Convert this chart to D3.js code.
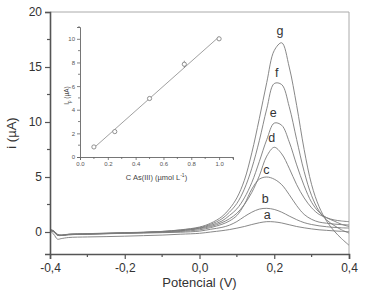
<!DOCTYPE html>
<html>
<head>
<meta charset="utf-8">
<script src="https://cdn.jsdelivr.net/npm/d3@7"></script>
<style>
  body { margin: 0; background: #fff; }
  svg { font-family: "Liberation Sans", Arial, sans-serif; }
</style>
</head>
<body>
<div id="chart"></div>
<script>
// potential grid (V) shared by all voltammograms
const potential = [-0.40, -0.39, -0.38, -0.37, -0.35, -0.30, -0.25, -0.20, -0.15, -0.10, -0.05,
  0.00, 0.03, 0.06, 0.08, 0.10, 0.12, 0.14, 0.16, 0.18, 0.20, 0.22, 0.24, 0.26, 0.28, 0.30,
  0.32, 0.34, 0.36, 0.38, 0.40];

// current (uA) for each curve
const curveA = [0.10, -0.20, -0.65, -0.60, -0.50, -0.45, -0.42, -0.38, -0.33, -0.28, -0.20,
  -0.12, 0.00, 0.12, 0.22, 0.35, 0.50, 0.68, 0.84, 0.94, 0.92, 0.82, 0.66, 0.50, 0.38, 0.28,
  0.20, 0.15, 0.10, 0.06, 0.03];
const curveB = [0.15, 0.05, -0.30, -0.32, -0.25, -0.20, -0.16, -0.12, -0.10, -0.06, -0.02,
  0.08, 0.25, 0.42, 0.62, 0.95, 1.40, 1.80, 2.08, 2.15, 2.05, 1.80, 1.45, 1.12, 0.85, 0.68,
  0.56, 0.48, 0.42, 0.38, 0.36];
const curveC = [0.20, 0.10, -0.25, -0.30, -0.22, -0.18, -0.14, -0.10, -0.06, -0.02, 0.05,
  0.20, 0.40, 0.70, 1.00, 1.50, 2.50, 3.90, 4.80, 5.00, 4.80, 4.30, 3.40, 2.40, 1.60, 1.15,
  0.90, 0.80, 0.72, 0.67, 0.64];
const curveD = [0.25, 0.10, -0.20, -0.28, -0.20, -0.15, -0.10, -0.06, -0.02, 0.03, 0.12,
  0.30, 0.50, 0.85, 1.20, 1.70, 2.50, 3.60, 5.10, 6.90, 7.70, 7.10, 5.80, 4.30, 3.10, 2.20,
  1.60, 1.30, 1.10, 1.00, 0.94];
const curveE = [0.20, 0.05, -0.25, -0.30, -0.22, -0.17, -0.12, -0.08, -0.04, 0.02, 0.12,
  0.35, 0.60, 1.00, 1.50, 2.10, 3.10, 4.50, 6.40, 8.40, 9.90, 9.70, 8.20, 6.10, 4.20, 2.70,
  1.80, 1.30, 1.00, 0.70, 0.50];
const curveF = [0.15, 0.05, -0.25, -0.30, -0.22, -0.18, -0.13, -0.08, -0.03, 0.05, 0.18,
  0.40, 0.70, 1.20, 1.80, 2.60, 3.90, 5.80, 8.30, 11.2, 13.5, 13.4, 11.4, 8.40, 5.50, 3.30,
  1.90, 1.10, 0.60, 0.20, -0.10];
const curveG = [0.10, 0.00, -0.30, -0.30, -0.25, -0.20, -0.15, -0.10, -0.05, 0.05, 0.20,
  0.45, 0.80, 1.40, 2.10, 3.10, 4.70, 7.20, 10.3, 13.6, 16.5, 17.2, 15.0, 11.5, 7.50, 4.30,
  2.30, 1.00, 0.10, -0.60, -1.20];

const curveNames = ["a", "b", "c", "d", "e", "f", "g"];
const curveData = [curveA, curveB, curveC, curveD, curveE, curveF, curveG];
// label anchor (potential, current at text baseline)
const labelPos = [[0.181, 1.15], [0.176, 2.6], [0.179, 5.3], [0.193, 8.2], [0.197, 10.5], [0.207, 14.1], [0.215, 17.9]];

// inset: calibration points
const concentration = [0.10, 0.25, 0.50, 0.75, 1.00];
const peakCurrent = [0.85, 2.15, 4.95, 7.85, 10.0];
const peakError = [0.1, 0.15, 0.15, 0.3, 0.15];

const xTicks = [-0.4, -0.2, 0.0, 0.2, 0.4];
const yTicks = [0, 5, 10, 15, 20];
const insetXTicks = [0.0, 0.2, 0.4, 0.6, 0.8, 1.0];
const insetYTicks = [0, 2, 4, 6, 8, 10];

const width = 368, height = 298;
const margin = {top: 12, right: 19, bottom: 44, left: 50};

const svg = d3.select("#chart").append("svg")
  .attr("width", width).attr("height", height);

const x = d3.scaleLinear().domain([-0.4, 0.4]).range([margin.left, width - margin.right]);
const y = d3.scaleLinear().domain([-2, 20]).range([height - margin.bottom, margin.top]);

const comma = d => d3.format(".1f")(d).replace(".", ",").replace("−", "-");

// frame (top & right)
svg.append("path")
  .attr("d", `M${x(-0.4)},${y(20)}H${x(0.4)}V${y(-2)}`)
  .attr("fill", "none").attr("stroke", "#aaa").attr("stroke-width", 1);

// curves
const line = d3.line()
  .x((d, i) => x(potential[i]))
  .y(d => y(d))
  .curve(d3.curveCatmullRom);

svg.append("g")
  .selectAll("path")
  .data(curveData)
  .join("path")
  .attr("d", line)
  .attr("fill", "none")
  .attr("stroke", "#7a7a7a")
  .attr("stroke-width", 0.9);

svg.append("g")
  .selectAll("text")
  .data(curveNames)
  .join("text")
  .attr("x", (d, i) => x(labelPos[i][0]))
  .attr("y", (d, i) => y(labelPos[i][1]))
  .attr("text-anchor", "middle")
  .attr("font-size", 12.5)
  .attr("fill", "#333")
  .text(d => d);

// main axes
const xAxis = svg.append("g")
  .attr("transform", `translate(0,${y(-2)})`)
  .call(d3.axisBottom(x).tickValues(xTicks).tickFormat(comma).tickSize(5).tickPadding(4));
xAxis.append("g").selectAll("line")
  .data([-0.3, -0.1, 0.1, 0.3])
  .join("line")
  .attr("x1", d => x(d)).attr("x2", d => x(d))
  .attr("y1", 0).attr("y2", 3);

const yAxis = svg.append("g")
  .attr("transform", `translate(${x(-0.4)},0)`)
  .call(d3.axisLeft(y).tickValues(yTicks).tickSize(5).tickPadding(3));
yAxis.append("g").selectAll("line")
  .data([2.5, 7.5, 12.5, 17.5])
  .join("line")
  .attr("y1", d => y(d)).attr("y2", d => y(d))
  .attr("x1", 0).attr("x2", -3);

[xAxis, yAxis].forEach(g => {
  g.select(".domain").attr("stroke", "#555").attr("stroke-width", 1.6);
  g.selectAll("line").attr("stroke", "#555").attr("stroke-width", 1.2);
  g.selectAll("text").attr("font-size", 12).attr("fill", "#333")
    .attr("font-family", "Liberation Sans, Arial, sans-serif");
});

svg.append("text")
  .attr("x", (x(-0.4) + x(0.4)) / 2)
  .attr("y", 287)
  .attr("text-anchor", "middle")
  .attr("font-size", 13)
  .attr("fill", "#333")
  .text("Potencial (V)");

svg.append("text")
  .attr("transform", `translate(16,${(y(20) + y(-2)) / 2}) rotate(-90)`)
  .attr("text-anchor", "middle")
  .attr("font-size", 13)
  .attr("fill", "#333")
  .text("i (µA)");

// inset
const ix = d3.scaleLinear().domain([0, 1.1]).range([80, 233]);
const iy = d3.scaleLinear().domain([0, 11]).range([157, 27]);
const inset = svg.append("g");

const ixAxis = inset.append("g")
  .attr("transform", `translate(0,${iy(0)})`)
  .call(d3.axisBottom(ix).tickValues(insetXTicks).tickFormat(d3.format(".1f")).tickSize(3).tickPadding(2));
ixAxis.append("g").selectAll("line")
  .data([0.1, 0.3, 0.5, 0.7, 0.9, 1.1])
  .join("line")
  .attr("x1", d => ix(d)).attr("x2", d => ix(d))
  .attr("y1", 0).attr("y2", 2);

const iyAxis = inset.append("g")
  .attr("transform", `translate(${ix(0)},0)`)
  .call(d3.axisLeft(iy).tickValues(insetYTicks).tickSize(3).tickPadding(2));
iyAxis.append("g").selectAll("line")
  .data([1, 3, 5, 7, 9, 11])
  .join("line")
  .attr("y1", d => iy(d)).attr("y2", d => iy(d))
  .attr("x1", 0).attr("x2", -2);

[ixAxis, iyAxis].forEach(g => {
  g.select(".domain").attr("stroke", "#666").attr("stroke-width", 0.9);
  g.selectAll("line").attr("stroke", "#666").attr("stroke-width", 0.8);
  g.selectAll("text").attr("font-size", 6).attr("fill", "#555")
    .attr("font-family", "Liberation Sans, Arial, sans-serif");
});

// least-squares fit through the calibration points
const mx = d3.mean(concentration), my = d3.mean(peakCurrent);
const slope = d3.sum(concentration, (c, i) => (c - mx) * (peakCurrent[i] - my)) /
  d3.sum(concentration, c => (c - mx) ** 2);
const icpt = my - slope * mx;
inset.append("line")
  .attr("x1", ix(concentration[0])).attr("y1", iy(icpt + slope * concentration[0]))
  .attr("x2", ix(concentration[4])).attr("y2", iy(icpt + slope * concentration[4]))
  .attr("stroke", "#888").attr("stroke-width", 0.8);

inset.append("g").selectAll("line")
  .data(concentration)
  .join("line")
  .attr("x1", d => ix(d)).attr("x2", d => ix(d))
  .attr("y1", (d, i) => iy(peakCurrent[i] - peakError[i]))
  .attr("y2", (d, i) => iy(peakCurrent[i] + peakError[i]))
  .attr("stroke", "#777").attr("stroke-width", 0.7);

inset.append("g").selectAll("circle")
  .data(concentration)
  .join("circle")
  .attr("cx", d => ix(d))
  .attr("cy", (d, i) => iy(peakCurrent[i]))
  .attr("r", 2.1)
  .attr("fill", "white")
  .attr("stroke", "#777")
  .attr("stroke-width", 0.8);

inset.append("text")
  .attr("x", (ix(0) + ix(1.1)) / 2)
  .attr("y", 180)
  .attr("text-anchor", "middle")
  .attr("font-size", 7.5)
  .attr("fill", "#444")
  .html('C As(III) (µmol L<tspan dy="-3" font-size="5">-1</tspan><tspan dy="3">)</tspan>');

inset.append("text")
  .attr("transform", `translate(69,${iy(5.2)}) rotate(-90)`)
  .attr("text-anchor", "middle")
  .attr("font-size", 6.5)
  .attr("fill", "#444")
  .html('I<tspan dy="1.5" font-size="4.5">p</tspan><tspan dy="-1.5"> (µA)</tspan>');
</script>
</body>
</html>
